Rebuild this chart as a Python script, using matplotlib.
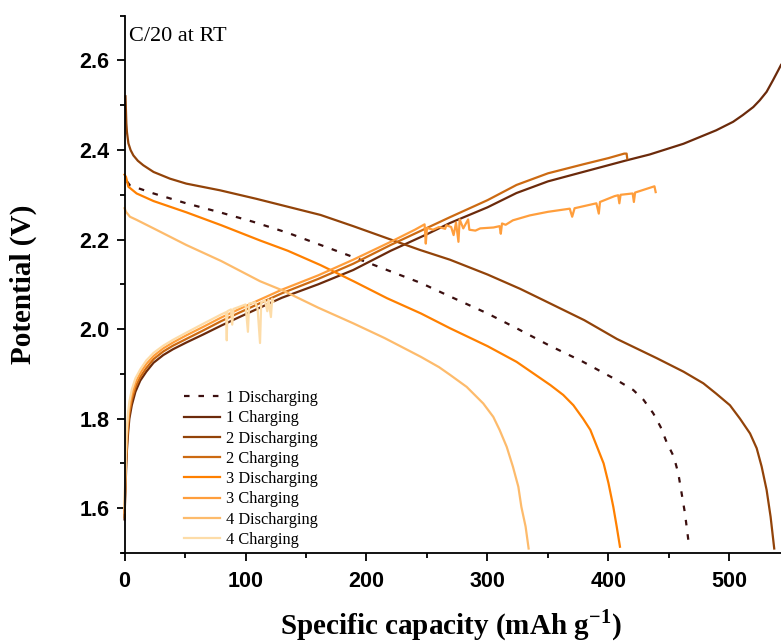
import matplotlib
matplotlib.use("Agg")
import matplotlib.pyplot as plt
from matplotlib.ticker import MultipleLocator

# ---- galvanostatic profiles, C/20 at room temperature ----
# specific capacity (mAh/g) and potential (V) for each half cycle

dis1_x = [2, 4.5, 24, 51, 80, 106, 135, 162, 190, 217, 245, 269, 300, 324, 350,
          379, 407, 420.5, 429, 437, 443, 448, 454, 457.7, 460, 463.2, 466]
dis1_v = [2.330, 2.321, 2.303, 2.281, 2.260, 2.240, 2.215, 2.188, 2.160, 2.132,
          2.103, 2.073, 2.035, 2.002, 1.965, 1.927, 1.886, 1.864, 1.842, 1.812,
          1.782, 1.748, 1.715, 1.678, 1.641, 1.589, 1.529]

chg1_x = [0, 0.5, 1, 1.5, 2, 3, 4, 6, 9, 13, 18, 24, 32, 40, 51, 65, 80, 95,
          112, 130, 160, 189, 220, 250, 269, 300, 324, 350, 379, 415, 434, 462,
          489, 503, 511, 519.7, 525, 530.7, 536, 540.3, 542.6]
chg1_v = [1.575, 1.620, 1.660, 1.700, 1.730, 1.770, 1.800, 1.830, 1.860, 1.885,
          1.905, 1.925, 1.942, 1.955, 1.970, 1.988, 2.008, 2.027, 2.048, 2.070,
          2.100, 2.132, 2.175, 2.212, 2.237, 2.272, 2.304, 2.330, 2.351, 2.377,
          2.390, 2.414, 2.444, 2.463, 2.478, 2.496, 2.511, 2.530, 2.556, 2.578,
          2.590]

dis2_x = [0.8, 1.5, 2, 3.2, 5, 7.3, 11, 15.5, 24, 37.6, 51, 79, 109, 134, 162,
          189, 217, 244, 269, 300, 327, 346, 380, 407, 440, 462, 478.4, 489,
          500.4, 508.7, 517, 522.5, 526.6, 530.7, 534, 537]
dis2_v = [2.520, 2.460, 2.440, 2.415, 2.400, 2.388, 2.376, 2.366, 2.351, 2.336,
          2.325, 2.310, 2.291, 2.274, 2.255, 2.230, 2.203, 2.177, 2.155, 2.122,
          2.090, 2.065, 2.020, 1.978, 1.935, 1.905, 1.879, 1.856, 1.830, 1.800,
          1.767, 1.734, 1.693, 1.641, 1.581, 1.510]

chg2_x = [0, 0.5, 1, 1.5, 2, 3, 4, 6, 9, 13, 18, 24, 32, 40, 51, 65, 80, 95,
          112, 130, 160, 189, 220, 250, 269, 300, 324, 350, 379, 400, 413, 415,
          415.5]
chg2_v = [1.580, 1.630, 1.675, 1.715, 1.745, 1.785, 1.812, 1.842, 1.870, 1.893,
          1.913, 1.933, 1.950, 1.963, 1.978, 1.997, 2.018, 2.037, 2.058, 2.080,
          2.112, 2.146, 2.188, 2.226, 2.250, 2.288, 2.322, 2.348, 2.368, 2.382,
          2.392, 2.392, 2.381]

dis3_x = [0, 1.2, 3.2, 10, 24, 51, 80, 112, 135, 162, 190, 217, 245, 269, 300,
          324, 352, 362.6, 371, 379, 385, 390, 396, 400, 404, 406.8, 409.5]
dis3_v = [2.345, 2.340, 2.318, 2.303, 2.286, 2.261, 2.232, 2.198, 2.175, 2.143,
          2.106, 2.069, 2.035, 2.002, 1.962, 1.927, 1.875, 1.853, 1.830, 1.800,
          1.775, 1.741, 1.700, 1.656, 1.603, 1.559, 1.514]

chg3_x = [0, 0.5, 1, 1.5, 2, 3, 4, 6, 9, 13, 18, 24, 32, 40, 51, 65, 80, 95,
          112, 130, 160, 189, 220, 240, 248, 249, 250, 255, 260, 265, 266, 270,
          272, 274, 276, 277, 280, 284, 285, 290, 294, 305, 310, 311, 312, 315,
          321, 335, 350, 368, 370, 372, 390, 392, 393, 405, 408, 409, 410, 420,
          421, 422, 438, 439]
chg3_v = [1.590, 1.650, 1.695, 1.735, 1.765, 1.800, 1.825, 1.853, 1.880, 1.902,
          1.922, 1.940, 1.957, 1.970, 1.986, 2.005, 2.026, 2.045, 2.066, 2.088,
          2.120, 2.155, 2.195, 2.222, 2.234, 2.191, 2.226, 2.222, 2.228, 2.224,
          2.232, 2.228, 2.210, 2.238, 2.195, 2.245, 2.225, 2.245, 2.222, 2.220,
          2.225, 2.227, 2.230, 2.213, 2.236, 2.233, 2.243, 2.254, 2.262, 2.269,
          2.251, 2.270, 2.281, 2.258, 2.284, 2.297, 2.299, 2.281, 2.300, 2.303,
          2.284, 2.305, 2.319, 2.306]

dis4_x = [0, 1.2, 4.5, 10, 24, 51, 80, 112, 131, 160, 189, 215, 245, 260, 269,
          282.8, 296.5, 304.8, 310, 315.9, 321, 325.5, 328, 331.5, 334]
dis4_v = [2.270, 2.262, 2.251, 2.244, 2.225, 2.188, 2.152, 2.107, 2.086, 2.048,
          2.013, 1.980, 1.938, 1.915, 1.898, 1.871, 1.834, 1.804, 1.775, 1.737,
          1.693, 1.648, 1.603, 1.559, 1.510]

chg4_x = [0, 0.5, 1, 1.5, 2, 3, 4, 6, 9, 13, 18, 24, 32, 40, 51, 65, 80, 84,
          84.5, 85, 88, 89, 90, 95, 100, 102, 103, 108, 110, 112, 113, 116, 118,
          119, 121, 122, 123]
chg4_v = [1.600, 1.660, 1.710, 1.750, 1.780, 1.815, 1.838, 1.865, 1.890, 1.910,
          1.930, 1.947, 1.963, 1.976, 1.992, 2.012, 2.033, 2.038, 1.975, 2.040,
          2.044, 2.010, 2.045, 2.050, 2.055, 1.994, 2.057, 2.060, 2.045, 1.969,
          2.060, 2.064, 2.040, 2.066, 2.027, 2.068, 2.061]

series = [
    ("1 Discharging", dis1_x, dis1_v, "#3b0f0f", (0, (2.5, 4))),
    ("1 Charging", chg1_x, chg1_v, "#6b2a0b", "-"),
    ("2 Discharging", dis2_x, dis2_v, "#924309", "-"),
    ("2 Charging", chg2_x, chg2_v, "#cc6a12", "-"),
    ("3 Discharging", dis3_x, dis3_v, "#ff8000", "-"),
    ("3 Charging", chg3_x, chg3_v, "#ff9e3c", "-"),
    ("4 Discharging", dis4_x, dis4_v, "#fdbb6c", "-"),
    ("4 Charging", chg4_x, chg4_v, "#fddca8", "-"),
]

W, H = 781, 644
fig = plt.figure(figsize=(W / 100, H / 100), dpi=100)
ax = fig.add_axes([121.5 / W, 1 - 553 / H, (W - 121.5) / W, (553 - 15.7) / H])

for label, xs, vs, color, ls in series:
    ax.plot(xs, vs, color=color, lw=1.6, ls=ls, label=label,
            solid_joinstyle="round")

ax.set_xlim(-2.5, 542.6)
ax.set_ylim(1.5, 2.7)
ax.spines["left"].set_position(("data", 0))
ax.spines["top"].set_visible(False)
ax.spines["right"].set_visible(False)
for s in ("left", "bottom"):
    ax.spines[s].set_linewidth(1.3)

ax.xaxis.set_major_locator(MultipleLocator(100))
ax.xaxis.set_minor_locator(MultipleLocator(50))
ax.yaxis.set_major_locator(MultipleLocator(0.2))
ax.yaxis.set_minor_locator(MultipleLocator(0.1))
ax.tick_params(which="major", direction="out", length=6, width=1.3)
ax.tick_params(which="minor", direction="out", length=3.5, width=1.3)
ax.tick_params(axis="x", which="major", pad=7)
ax.tick_params(axis="y", which="major", pad=5)
for t in ax.get_xticklabels() + ax.get_yticklabels():
    t.set_fontfamily("Liberation Sans")
    t.set_fontweight("bold")
    t.set_fontsize(15.5)

ax.set_xlabel(r"Specific capacity (mAh g$^{\mathregular{-1}}$)",
              fontfamily="Liberation Serif", fontweight="bold", fontsize=21,
              labelpad=11)
ax.set_ylabel("Potential (V)", fontfamily="Liberation Serif",
              fontweight="bold", fontsize=21, labelpad=30)

fig.text(129 / W, 1 - 41 / H, "C/20 at RT", fontfamily="Liberation Serif",
         fontsize=16, va="baseline", ha="left")

leg = ax.legend(loc="upper left", bbox_to_anchor=(184 / W, 1 - 390 / H),
                bbox_transform=fig.transFigure, frameon=False,
                prop={"family": "Liberation Serif", "size": 11.8},
                handlelength=2.2, handletextpad=0.35, labelspacing=0.26,
                borderpad=0, borderaxespad=0)

fig.savefig("out.png", dpi=100)
